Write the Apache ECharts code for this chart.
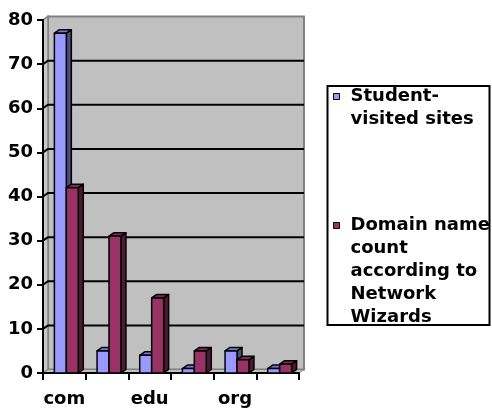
<!DOCTYPE html>
<html>
<head>
<meta charset="utf-8">
<script src="https://cdn.jsdelivr.net/npm/echarts@6/dist/echarts.min.js"></script>
<style>
html,body{margin:0;padding:0;background:#fff;}
#chart{width:492px;height:409px;}
</style>
</head>
<body>
<div id="chart"></div>
<script>
const categories = ['com', 'net', 'edu', 'gov', 'org', 'mil'];
const studentVisited = [77, 5, 4, 1, 5, 1];
const domainCount = [42, 31, 17, 5, 3, 2];
const yTicks = [0, 10, 20, 30, 40, 50, 60, 70, 80];
const seriesNames = ['Student-\nvisited sites', 'Domain name\ncount\naccording to\nNetwork\nWizards'];

const DX = 5, DY = 3.5;
const FONT = 'DejaVu Sans';
const LH = 23;

function barRenderer(idx, front, top, side) {
  return function (params, api) {
    const ci = api.value(0), v = api.value(1);
    const p = api.coord([ci, v]);
    const b = api.coord([ci, 0]);
    const w = api.size([1, 0])[0];
    const bw = w * 0.28;
    const x0 = idx === 0 ? p[0] - bw + 2 : p[0] + 2;
    const x1 = x0 + bw;
    const st = { stroke: '#000', lineWidth: 1.5, lineJoin: 'round' };
    return {
      type: 'group',
      children: [
        { type: 'polygon', shape: { points: [[x1, p[1]], [x1 + DX, p[1] - DY], [x1 + DX, b[1] - DY], [x1, b[1]]] }, style: Object.assign({ fill: side }, st) },
        { type: 'polygon', shape: { points: [[x0, p[1]], [x0 + DX, p[1] - DY], [x1 + DX, p[1] - DY], [x1, p[1]]] }, style: Object.assign({ fill: top }, st) },
        { type: 'rect', shape: { x: x0, y: p[1], width: bw, height: b[1] - p[1] }, style: Object.assign({ fill: front }, st) }
      ]
    };
  };
}

function wallRenderer(params, api) {
  const w = api.size([1, 0])[0];
  const n = categories.length;
  const xl = api.coord([0, 0])[0] - w / 2;
  const xr = api.coord([n - 1, 0])[0] + w / 2;
  const yb = api.coord([0, yTicks[0]])[1];
  const yt = api.coord([0, yTicks[yTicks.length - 1]])[1];
  const wallStyle = { fill: '#c0c0c0', stroke: '#808080', lineWidth: 2 };
  return {
    type: 'group',
    children: [
      { type: 'rect', shape: { x: xl + DX, y: yt - DY, width: xr - xl, height: yb - yt }, style: wallStyle },
      { type: 'polygon', shape: { points: [[xl, yb], [xl, yt], [xl + DX, yt - DY], [xl + DX, yb - DY]] }, style: { fill: '#c8c8c8', stroke: '#808080', lineWidth: 1.5 } },
      { type: 'polygon', shape: { points: [[xl, yb], [xl + DX, yb - DY], [xr + DX, yb - DY], [xr, yb]] }, style: { fill: '#c0c0c0', stroke: '#808080', lineWidth: 1 } }
    ]
  };
}

function gridRenderer(params, api) {
  const v = api.value(1);
  const w = api.size([1, 0])[0];
  const n = categories.length;
  const xl = api.coord([0, v])[0] - w / 2;
  const xr = api.coord([n - 1, v])[0] + w / 2;
  const y = api.coord([0, v])[1];
  return {
    type: 'polyline',
    shape: { points: [[xl, y], [xl + DX, y - DY], [xr + DX, y - DY]] },
    style: { stroke: '#000', lineWidth: 2, fill: null }
  };
}

const chart = echarts.init(document.getElementById('chart'), null, { renderer: 'canvas' });
const gridLineData = yTicks.slice(1, -1).map(v => [0, v]);

// leading blank lines keep each legend marker beside the first line of its label
const legendLead = {};
legendLead[seriesNames[0]] = 1;
legendLead[seriesNames[1]] = 4;

chart.setOption({
  animation: false,
  backgroundColor: '#ffffff',
  textStyle: { fontFamily: FONT },
  grid: { left: 43, right: 193, top: 20, bottom: 36, containLabel: false },
  xAxis: {
    type: 'category',
    data: categories,
    boundaryGap: true,
    axisLine: { lineStyle: { color: '#000', width: 2 } },
    axisTick: { show: true, interval: 0, length: 7, lineStyle: { color: '#000', width: 2 } },
    axisLabel: { interval: 1, color: '#000', fontFamily: FONT, fontWeight: 'bold', fontSize: 18, margin: 17 },
    splitLine: { show: false }
  },
  yAxis: {
    type: 'value',
    min: yTicks[0],
    max: yTicks[yTicks.length - 1],
    interval: 10,
    axisLine: { show: true, lineStyle: { color: '#000', width: 2 } },
    axisTick: { show: true, length: 6, lineStyle: { color: '#000', width: 2 } },
    axisLabel: { color: '#000', fontFamily: FONT, fontWeight: 'bold', fontSize: 18, margin: 10 },
    splitLine: { show: false }
  },
  legend: {
    orient: 'vertical',
    left: 333,
    top: 62,
    padding: 0,
    itemGap: -9,
    itemWidth: 6,
    itemHeight: 6,
    icon: 'rect',
    formatter: function (name) {
      return '\n'.repeat(legendLead[name] || 0) + name;
    },
    textStyle: { fontFamily: FONT, fontWeight: 'bold', fontSize: 18, color: '#000', lineHeight: LH, padding: [0, 0, 0, 6] },
    data: [
      { name: seriesNames[0], itemStyle: { color: '#9999ff', borderColor: '#000', borderWidth: 1 } },
      { name: seriesNames[1], itemStyle: { color: '#993366', borderColor: '#000', borderWidth: 1 } }
    ]
  },
  graphic: [
    { type: 'rect', z: 100, shape: { x: 327.5, y: 86, width: 162, height: 239 }, style: { fill: null, stroke: '#000', lineWidth: 2 } }
  ],
  series: [
    { type: 'custom', name: 'walls', z: -2, silent: true, clip: false, renderItem: wallRenderer, data: [[0, 0]] },
    { type: 'custom', name: 'grid', z: -1, silent: true, clip: false, renderItem: gridRenderer, data: gridLineData },
    { type: 'custom', name: seriesNames[0], clip: false, color: '#9999ff', renderItem: barRenderer(0, '#9999ff', '#7a7acc', '#4d4d80'), data: studentVisited.map((v, i) => [i, v]) },
    { type: 'custom', name: seriesNames[1], clip: false, color: '#993366', renderItem: barRenderer(1, '#993366', '#7a2952', '#4d1933'), data: domainCount.map((v, i) => [i, v]) }
  ]
});
</script>
</body>
</html>
